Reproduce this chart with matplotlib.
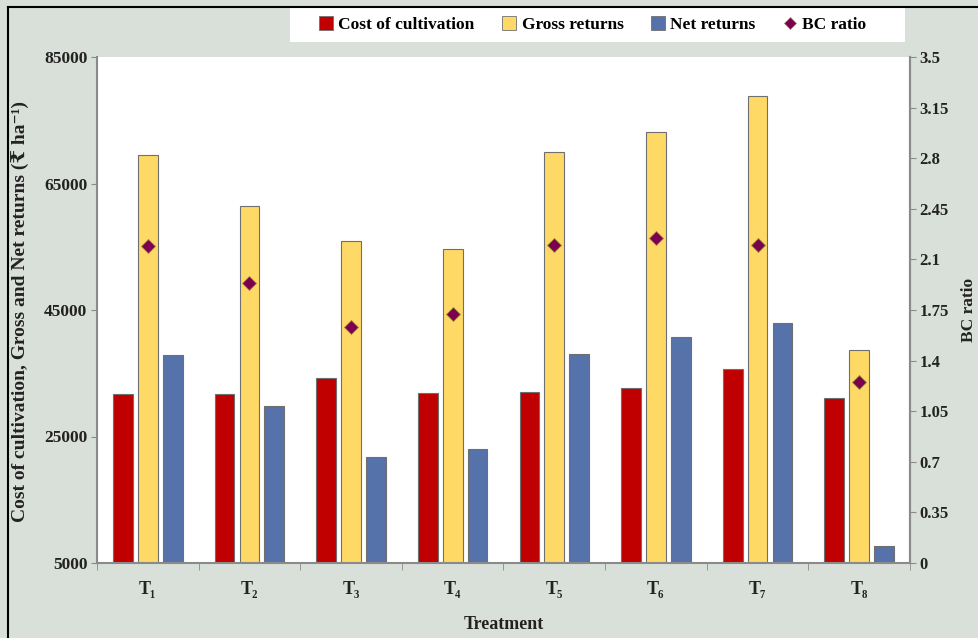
import matplotlib
matplotlib.use("Agg")
import matplotlib.pyplot as plt
import numpy as np
from matplotlib.lines import Line2D
from matplotlib.patches import Rectangle

# Treatments and economics values
treatments = ["T₁", "T₂", "T₃", "T₄", "T₅", "T₆", "T₇", "T₈"]
cost_of_cultivation = [31700, 31700, 34250, 31900, 32050, 32650, 35700, 31100]
gross_returns = [69500, 61450, 55900, 54650, 70000, 73150, 78850, 38700]
net_returns = [37850, 29800, 21750, 23000, 38000, 40700, 42950, 7700]
bc_ratio = [2.19, 1.94, 1.63, 1.72, 2.20, 2.25, 2.20, 1.25]

left_ticks = [5000, 25000, 45000, 65000, 85000]
right_ticks = [0, 0.35, 0.7, 1.05, 1.4, 1.75, 2.1, 2.45, 2.8, 3.15, 3.5]
right_labels = ["0", "0.35", "0.7", "1.05", "1.4", "1.75", "2.1", "2.45", "2.8", "3.15", "3.5"]

serif = ["Liberation Serif", "DejaVu Serif", "DejaVu Sans"]
plt.rcParams["font.family"] = serif
plt.rcParams["font.weight"] = "bold"

bg = "#d9e0d9"
red, yellow, blue, purple = "#c00000", "#ffd966", "#5672ab", "#7d0050"
edge = "#6f6f6f"
spine_col = "#8a8a8a"
text_col = "#222222"

fig = plt.figure(figsize=(9.79, 6.38), dpi=100, facecolor=bg)
W, H = 979, 638
ax = fig.add_axes([97 / W, 1 - 563 / H, (910 - 97) / W, (563 - 57) / H])
ax.set_facecolor("white")

x = np.arange(len(treatments))
bw = 0.195
off = 0.245
ax.bar(x - off, np.array(cost_of_cultivation) - 5000, bw, bottom=5000,
       color=red, edgecolor=edge, linewidth=0.8, zorder=2)
ax.bar(x, np.array(gross_returns) - 5000, bw, bottom=5000,
       color=yellow, edgecolor=edge, linewidth=0.8, zorder=2)
ax.bar(x + off, np.array(net_returns) - 5000, bw, bottom=5000,
       color=blue, edgecolor=edge, linewidth=0.8, zorder=2)

ax.set_xlim(-0.5, len(treatments) - 0.5)
ax.set_ylim(5000, 85000)
ax.set_yticks(left_ticks)
ax.set_yticklabels([str(v) for v in left_ticks], fontsize=12.5, color=text_col,
                   fontweight="bold")
ax.set_xticks(x)
ax.set_xticklabels(treatments, fontsize=13, color=text_col, fontweight="bold")
ax.set_xticks(np.arange(-0.5, len(treatments)), minor=True)
ax.tick_params(axis="x", which="major", length=0, pad=13)
ax.tick_params(axis="x", which="minor", length=5, color=spine_col, direction="out")
ax.tick_params(axis="y", length=4, color=spine_col, direction="out", pad=3)

ax.spines["top"].set_visible(False)
for s in ["left", "right", "bottom"]:
    ax.spines[s].set_color(spine_col)
    ax.spines[s].set_linewidth(1.5)

ax2 = ax.twinx()
ax2.set_ylim(0, 3.5)
ax2.set_yticks(right_ticks)
ax2.set_yticklabels(right_labels, fontsize=12, color=text_col, fontweight="bold")
ax2.tick_params(axis="y", length=4, color=spine_col, direction="out", pad=3)
for s in ["top", "left", "bottom"]:
    ax2.spines[s].set_visible(False)
ax2.spines["right"].set_color(spine_col)
ax2.spines["right"].set_linewidth(1.5)
ax2.plot(x, bc_ratio, linestyle="none", marker="D", markersize=7.5,
         markerfacecolor=purple, markeredgecolor="#9a8a3a", markeredgewidth=0.6,
         zorder=5)

ax.set_xlabel("Treatment", fontsize=13, fontweight="bold", color=text_col,
              labelpad=13)
fig.text(21 / W, 1 - 312 / H, "Cost of cultivation, Gross and Net returns (₹ ha⁻¹)",
         rotation=90, ha="center", va="center", fontsize=14, fontweight="bold",
         color=text_col, family=serif)
fig.text(969 / W, 1 - 310 / H, "BC ratio", rotation=90, ha="center", va="center",
         fontsize=12.5, fontweight="bold", color=text_col, family=serif)

# Legend panel across the top
fig.patches.append(Rectangle((290 / W, 1 - 42 / H), (905 - 290) / W, 35 / H,
                             transform=fig.transFigure, facecolor="white",
                             edgecolor="none", zorder=0))
handles = [
    Line2D([], [], linestyle="none", marker="s", markersize=10,
           markerfacecolor=red, markeredgecolor=edge, markeredgewidth=0.6),
    Line2D([], [], linestyle="none", marker="s", markersize=10,
           markerfacecolor=yellow, markeredgecolor=edge, markeredgewidth=0.6),
    Line2D([], [], linestyle="none", marker="s", markersize=10,
           markerfacecolor=blue, markeredgecolor=edge, markeredgewidth=0.6),
    Line2D([], [], linestyle="none", marker="D", markersize=6,
           markerfacecolor=purple, markeredgecolor="#9a8a3a", markeredgewidth=0.5),
]
labels = ["Cost of cultivation", "Gross returns", "Net returns", "BC ratio"]
fig.legend(handles, labels, loc="center", bbox_to_anchor=(593 / W, 1 - 25 / H),
           ncol=4, frameon=False, prop={"family": serif, "weight": "bold", "size": 12.5},
           handlelength=0.8, handletextpad=0.3, columnspacing=1.6)

# Outer border lines on the top and left
fig.add_artist(Line2D([8 / W, 1], [1 - 7 / H, 1 - 7 / H], transform=fig.transFigure,
                      color="black", linewidth=1.5))
fig.add_artist(Line2D([8 / W, 8 / W], [0, 1 - 7 / H], transform=fig.transFigure,
                      color="black", linewidth=1.5))

fig.savefig("out.png", dpi=100, facecolor=bg)
